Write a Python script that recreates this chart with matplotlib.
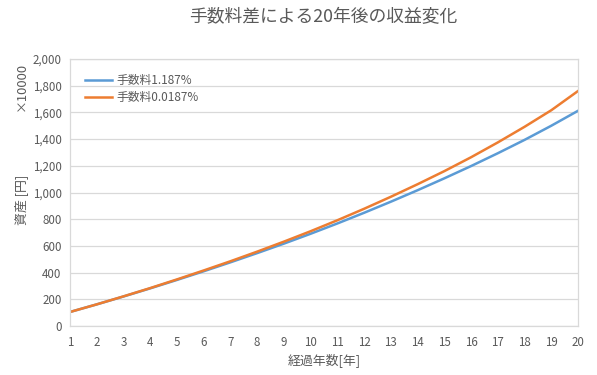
import matplotlib
matplotlib.use('Agg')
import matplotlib.pyplot as plt
from matplotlib.ticker import FuncFormatter

plt.rcParams['font.family'] = ['Noto Sans CJK JP', 'DejaVu Sans']

years = list(range(1, 21))
# asset values, unit: x10000 yen
fee_high = [105, 162, 221, 282, 345, 410, 477, 546, 617, 691,
            768, 848, 931, 1017, 1106, 1198, 1294, 1394, 1500, 1612]
fee_low = [105, 162, 222, 284, 349, 416, 485, 557, 632, 710,
           792, 878, 968, 1062, 1160, 1264, 1375, 1492, 1616, 1760]
labels = ['手数料1.187%', '手数料0.0187%']
title = '手数料差による20年後の収益変化'

text_color = '#595959'
grid_color = '#d9d9d9'

fig = plt.figure(figsize=(5.97, 3.75), dpi=100)
ax = fig.add_axes([70 / 597, 1 - 326 / 375, 508 / 597, 267 / 375])

ax.plot(years, fee_high, color='#5B9BD5', linewidth=1.8, label=labels[0])
ax.plot(years, fee_low, color='#ED7D31', linewidth=1.8, label=labels[1])

ax.set_xlim(1, 20)
ax.set_ylim(0, 2000)
ax.set_xticks(years)
ax.set_yticks(range(0, 2001, 200))
ax.yaxis.set_major_formatter(FuncFormatter(lambda v, p: f'{int(v):,}'))
ax.grid(axis='y', color=grid_color, linewidth=0.9)
ax.set_axisbelow(True)
for s in ax.spines.values():
    s.set_color(grid_color)
    s.set_linewidth(0.9)
ax.tick_params(length=0, labelsize=8.3, colors=text_color)
ax.tick_params(axis='y', pad=6)
ax.tick_params(axis='x', pad=7)

fig.text(323 / 597, 1 - 17 / 375, title, ha='center', va='center',
         fontsize=12.8, color=text_color)
ax.set_xlabel('経過年数[年]', fontsize=9.3, color=text_color, labelpad=3)
fig.text(21 / 597, 1 - 200 / 375, '資産 [円]', rotation=90, ha='center',
         va='center', fontsize=9.3, color=text_color)
fig.text(21 / 597, 1 - 86 / 375, '×10000', rotation=90, ha='center',
         va='center', fontsize=9.3, color=text_color)

ax.legend(loc='upper left', frameon=False, fontsize=8.5, handlelength=2.3,
          handletextpad=0.35, labelspacing=0.4, borderaxespad=0.85,
          labelcolor=text_color)

fig.savefig('out.png', dpi=100)
